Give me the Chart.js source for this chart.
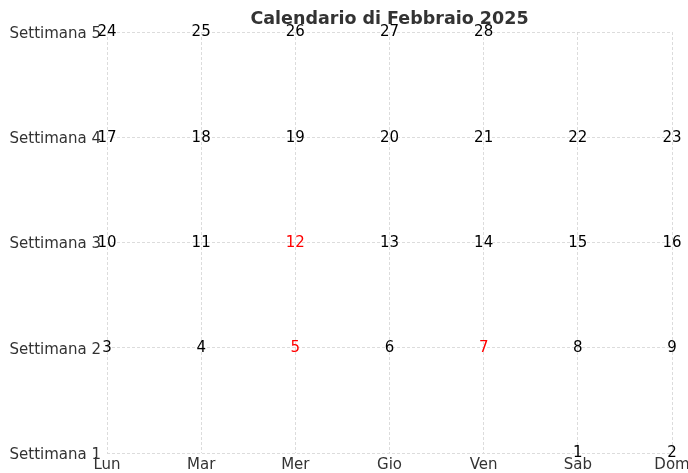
<!DOCTYPE html>
<html>
<head>
<meta charset="utf-8">
<script src="https://cdn.jsdelivr.net/npm/chart.js@4.4.1/dist/chart.umd.min.js"></script>
<style>
  html, body { margin: 0; padding: 0; background: #fff; }
  #wrap { width: 688px; height: 473px; }
</style>
</head>
<body>
<div id="wrap"><canvas id="cal" width="688" height="473"></canvas></div>
<script>
// ==== Dati ====
const giorni = ['Lun', 'Mar', 'Mer', 'Gio', 'Ven', 'Sab', 'Dom'];
const settimane = ['Settimana 1', 'Settimana 2', 'Settimana 3', 'Settimana 4', 'Settimana 5'];
const settimana1 = [null, null, null, null, null, 1, 2];
const settimana2 = [3, 4, 5, 6, 7, 8, 9];
const settimana3 = [10, 11, 12, 13, 14, 15, 16];
const settimana4 = [17, 18, 19, 20, 21, 22, 23];
const settimana5 = [24, 25, 26, 27, 28, null, null];
const evidenziati = [5, 7, 12];
const titolo = 'Calendario di Febbraio 2025';

const righe = [settimana1, settimana2, settimana3, settimana4, settimana5];
const punti = [];
righe.forEach((riga, r) => {
  riga.forEach((num, c) => {
    if (num !== null) punti.push({ x: c, y: r, num: num });
  });
});

const FONT = "'DejaVu Sans', sans-serif";

// ==== Plugin: numeri e titolo ====
const numeriPlugin = {
  id: 'numeri',
  afterDatasetsDraw(chart) {
    const ctx = chart.ctx;
    const meta = chart.getDatasetMeta(0);
    ctx.save();
    ctx.font = '15px ' + FONT;
    ctx.textAlign = 'center';
    ctx.textBaseline = 'middle';
    meta.data.forEach((el, i) => {
      const p = punti[i];
      ctx.fillStyle = evidenziati.includes(p.num) ? '#ff0000' : '#000000';
      ctx.fillText(String(p.num), el.x, el.y + 0.5);
    });
    const area = chart.chartArea;
    ctx.font = 'bold 17.5px ' + FONT;
    ctx.fillStyle = '#333333';
    ctx.textBaseline = 'middle';
    ctx.fillText(titolo, (area.left + area.right) / 2, 19);
    ctx.restore();
  }
};

const ctx = document.getElementById('cal').getContext('2d');
const chart = new Chart(ctx, {
  type: 'scatter',
  data: {
    datasets: [{
      data: punti,
      pointRadius: 0,
      pointHoverRadius: 0
    }]
  },
  options: {
    responsive: false,
    animation: false,
    events: [],
    layout: { padding: { top: 32, right: 16, left: 0, bottom: 0 } },
    plugins: {
      legend: { display: false },
      tooltip: { enabled: false },
      title: { display: false }
    },
    scales: {
      x: {
        type: 'linear',
        min: 0,
        max: giorni.length - 1,
        afterBuildTicks(scale) {
          scale.ticks = giorni.map((g, i) => ({ value: i }));
        },
        afterFit(scale) {
          scale.height = 20;
          scale.paddingLeft = 0;
          scale.paddingRight = 0;
        },
        ticks: {
          autoSkip: false,
          maxRotation: 0,
          padding: 3,
          color: '#333333',
          font: { family: FONT, size: 15 },
          callback: (v) => giorni[v]
        },
        grid: { color: '#d3d3d3', lineWidth: 0.8, drawTicks: false },
        border: { display: false, dash: [3, 2] }
      },
      y: {
        type: 'linear',
        min: 0,
        max: settimane.length - 1,
        afterBuildTicks(scale) {
          scale.ticks = settimane.map((s, i) => ({ value: i }));
        },
        afterFit(scale) {
          scale.width = 107;
          scale.paddingTop = 0;
          scale.paddingBottom = 0;
        },
        ticks: {
          autoSkip: false,
          padding: 6,
          labelOffset: 2,
          color: '#333333',
          font: { family: FONT, size: 15 },
          callback: (v) => settimane[v]
        },
        grid: { color: '#d3d3d3', lineWidth: 0.8, drawTicks: false },
        border: { display: false, dash: [3, 2] }
      }
    }
  },
  plugins: [numeriPlugin]
});
</script>
</body>
</html>
